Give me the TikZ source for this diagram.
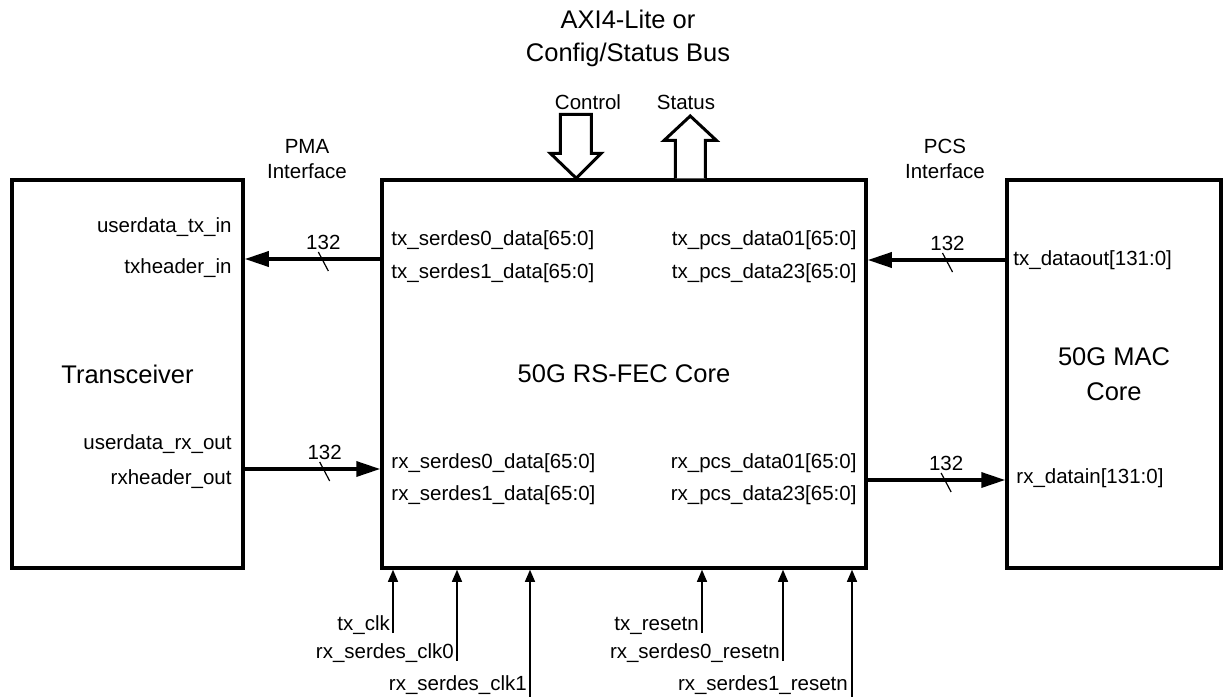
\documentclass[tikz,border=0pt]{standalone}
\usepackage{fontspec}
\setmainfont{Liberation Sans}
\usetikzlibrary{arrows.meta,calc}

\begin{document}
\begin{tikzpicture}
  [
    x=1pt, y=-1pt,
    block/.style =
      {draw, rectangle, line width=3.5pt, inner sep=0pt, align=center,
       font=\fontsize{25.5}{35}\selectfont},
    big/.style =
      {font=\fontsize{25.5}{33}\selectfont, align=center, inner sep=0pt},
    small/.style =
      {font=\fontsize{20.5}{25}\selectfont, align=center, inner sep=0pt},
    port/.style =
      {font=\fontsize{20.5}{25}\selectfont, inner sep=0pt},
    bus/.style =
      {line width=3.5pt, -{Triangle[length=24pt,width=15pt]}},
    slash/.style =
      {line width=1.2pt},
    sarrow/.style =
      {line width=1.3pt, -{Triangle[length=12pt,width=10pt]}},
    hollow/.style =
      {draw, line width=3pt, line join=miter, fill=white}
  ]

\useasboundingbox (0,0) rectangle (1225,696);

% blocks
\node[block, minimum width=484pt, minimum height=388pt] (fec) at (624,374) {50G RS-FEC Core};
\node[block, minimum width=231pt, minimum height=388pt] (trx) at (127.5,374) {Transceiver};
\node[block, minimum width=214pt, minimum height=388pt] (mac) at (1114,374) {50G MAC\\Core};

% titles
\node[big] (bus) at (628,38) {AXI4-Lite or\\Config/Status Bus};
\node[small] (pma) at (307,159) {PMA\\Interface};
\node[small] (pcs) at (945,159) {PCS\\Interface};

% control / status
\coordinate (ctl) at ($(fec.north west)+(196,0)$);
\draw[hollow] (ctl) -- ++(-26,-25) -- ++(10,0) -- ++(0,-39) -- ++(31,0)
  -- ++(0,39) -- ++(10,0) -- cycle;
\node[small] (ctltxt) at (588,102) {Control};

\coordinate (sts) at ($(fec.north west)+(310,0)$);
\draw[hollow] ($(sts)+(-15,0)$) -- ++(0,-38) -- ++(-11,0) -- (sts |- 0,116)
  -- ($(sts)+(26,-38)$) -- ++(-11,0) -- ++(0,38);
\node[small] (ststxt) at (686,102) {Status};

% fec ports
\node[port, anchor=west] (txs0) at ($(fec.north west)+(11,62)$) {tx\_serdes0\_data[65:0]};
\node[port, anchor=west] (txs1) at ($(fec.north west)+(11,95)$) {tx\_serdes1\_data[65:0]};
\node[port, anchor=west] (rxs0) at ($(fec.north west)+(11,285)$) {rx\_serdes0\_data[65:0]};
\node[port, anchor=west] (rxs1) at ($(fec.north west)+(11,317)$) {rx\_serdes1\_data[65:0]};

\node[port, anchor=east] (txp0) at ($(fec.north east)+(-11,62)$) {tx\_pcs\_data01[65:0]};
\node[port, anchor=east] (txp1) at ($(fec.north east)+(-11,95)$) {tx\_pcs\_data23[65:0]};
\node[port, anchor=east] (rxp0) at ($(fec.north east)+(-11,285)$) {rx\_pcs\_data01[65:0]};
\node[port, anchor=east] (rxp1) at ($(fec.north east)+(-11,317)$) {rx\_pcs\_data23[65:0]};

% transceiver ports
\node[port, anchor=east] (utx) at ($(trx.north east)+(-13,49)$) {userdata\_tx\_in};
\node[port, anchor=east] (htx) at ($(trx.north east)+(-13,90)$) {txheader\_in};
\node[port, anchor=east] (urx) at ($(trx.north east)+(-13,266)$) {userdata\_rx\_out};
\node[port, anchor=east] (hrx) at ($(trx.north east)+(-13,301)$) {rxheader\_out};

% mac ports
\node[port, anchor=west] (mtx) at ($(mac.north west)+(8,82)$) {tx\_dataout[131:0]};
\node[port, anchor=west] (mrx) at ($(mac.north west)+(11,300)$) {rx\_datain[131:0]};

% buses
\draw[bus] ($(fec.west)+(0,-115)$) -- coordinate[pos=0.42] (b1) ($(trx.east)+(0,-115)$);
\draw[slash] ($(b1)+(-5,-7)$) -- ($(b1)+(5,12)$);
\node[small] (w1) at ($(b1)+(0,-17)$) {132};

\draw[bus] ($(mac.west)+(0,-114)$) -- coordinate[pos=0.42] (b2) ($(fec.east)+(0,-114)$);
\draw[slash] ($(b2)+(-5,-7)$) -- ($(b2)+(5,12)$);
\node[small] (w2) at ($(b2)+(0,-17)$) {132};

\draw[bus] ($(trx.east)+(0,95)$) -- coordinate[pos=0.59] (b3) ($(fec.west)+(0,95)$);
\draw[slash] ($(b3)+(-5,-7)$) -- ($(b3)+(5,12)$);
\node[small] (w3) at ($(b3)+(0,-17)$) {132};

\draw[bus] ($(fec.east)+(0,106)$) -- coordinate[pos=0.57] (b4) ($(mac.west)+(0,106)$);
\draw[slash] ($(b4)+(-5,-7)$) -- ($(b4)+(5,12)$);
\node[small] (w4) at ($(b4)+(0,-17)$) {132};

% clocks and resets
\draw[sarrow] (393,633) coordinate (txclk) -- (txclk |- fec.south);
\node[port, anchor=base east] (txclkl) at ($(txclk)+(-3,-3)$) {tx\_clk};
\draw[sarrow] (457,661) coordinate (rxclk0) -- (rxclk0 |- fec.south);
\node[port, anchor=base east] (rxclk0l) at ($(rxclk0)+(-3,-3)$) {rx\_serdes\_clk0};
\draw[sarrow] (530,697) coordinate (rxclk1) -- (rxclk1 |- fec.south);
\node[port, anchor=base east] (rxclk1l) at ($(rxclk1)+(-3,-7)$) {rx\_serdes\_clk1};

\draw[sarrow] (702,633) coordinate (txrst) -- (txrst |- fec.south);
\node[port, anchor=base east] (txrstl) at ($(txrst)+(-3,-3)$) {tx\_resetn};
\draw[sarrow] (783,661) coordinate (rxrst0) -- (rxrst0 |- fec.south);
\node[port, anchor=base east] (rxrst0l) at ($(rxrst0)+(-3,-3)$) {rx\_serdes0\_resetn};
\draw[sarrow] (852,697) coordinate (rxrst1) -- (rxrst1 |- fec.south);
\node[port, anchor=base east] (rxrst1l) at ($(rxrst1)+(-4,-7)$) {rx\_serdes1\_resetn};
\end{tikzpicture}
\end{document}
